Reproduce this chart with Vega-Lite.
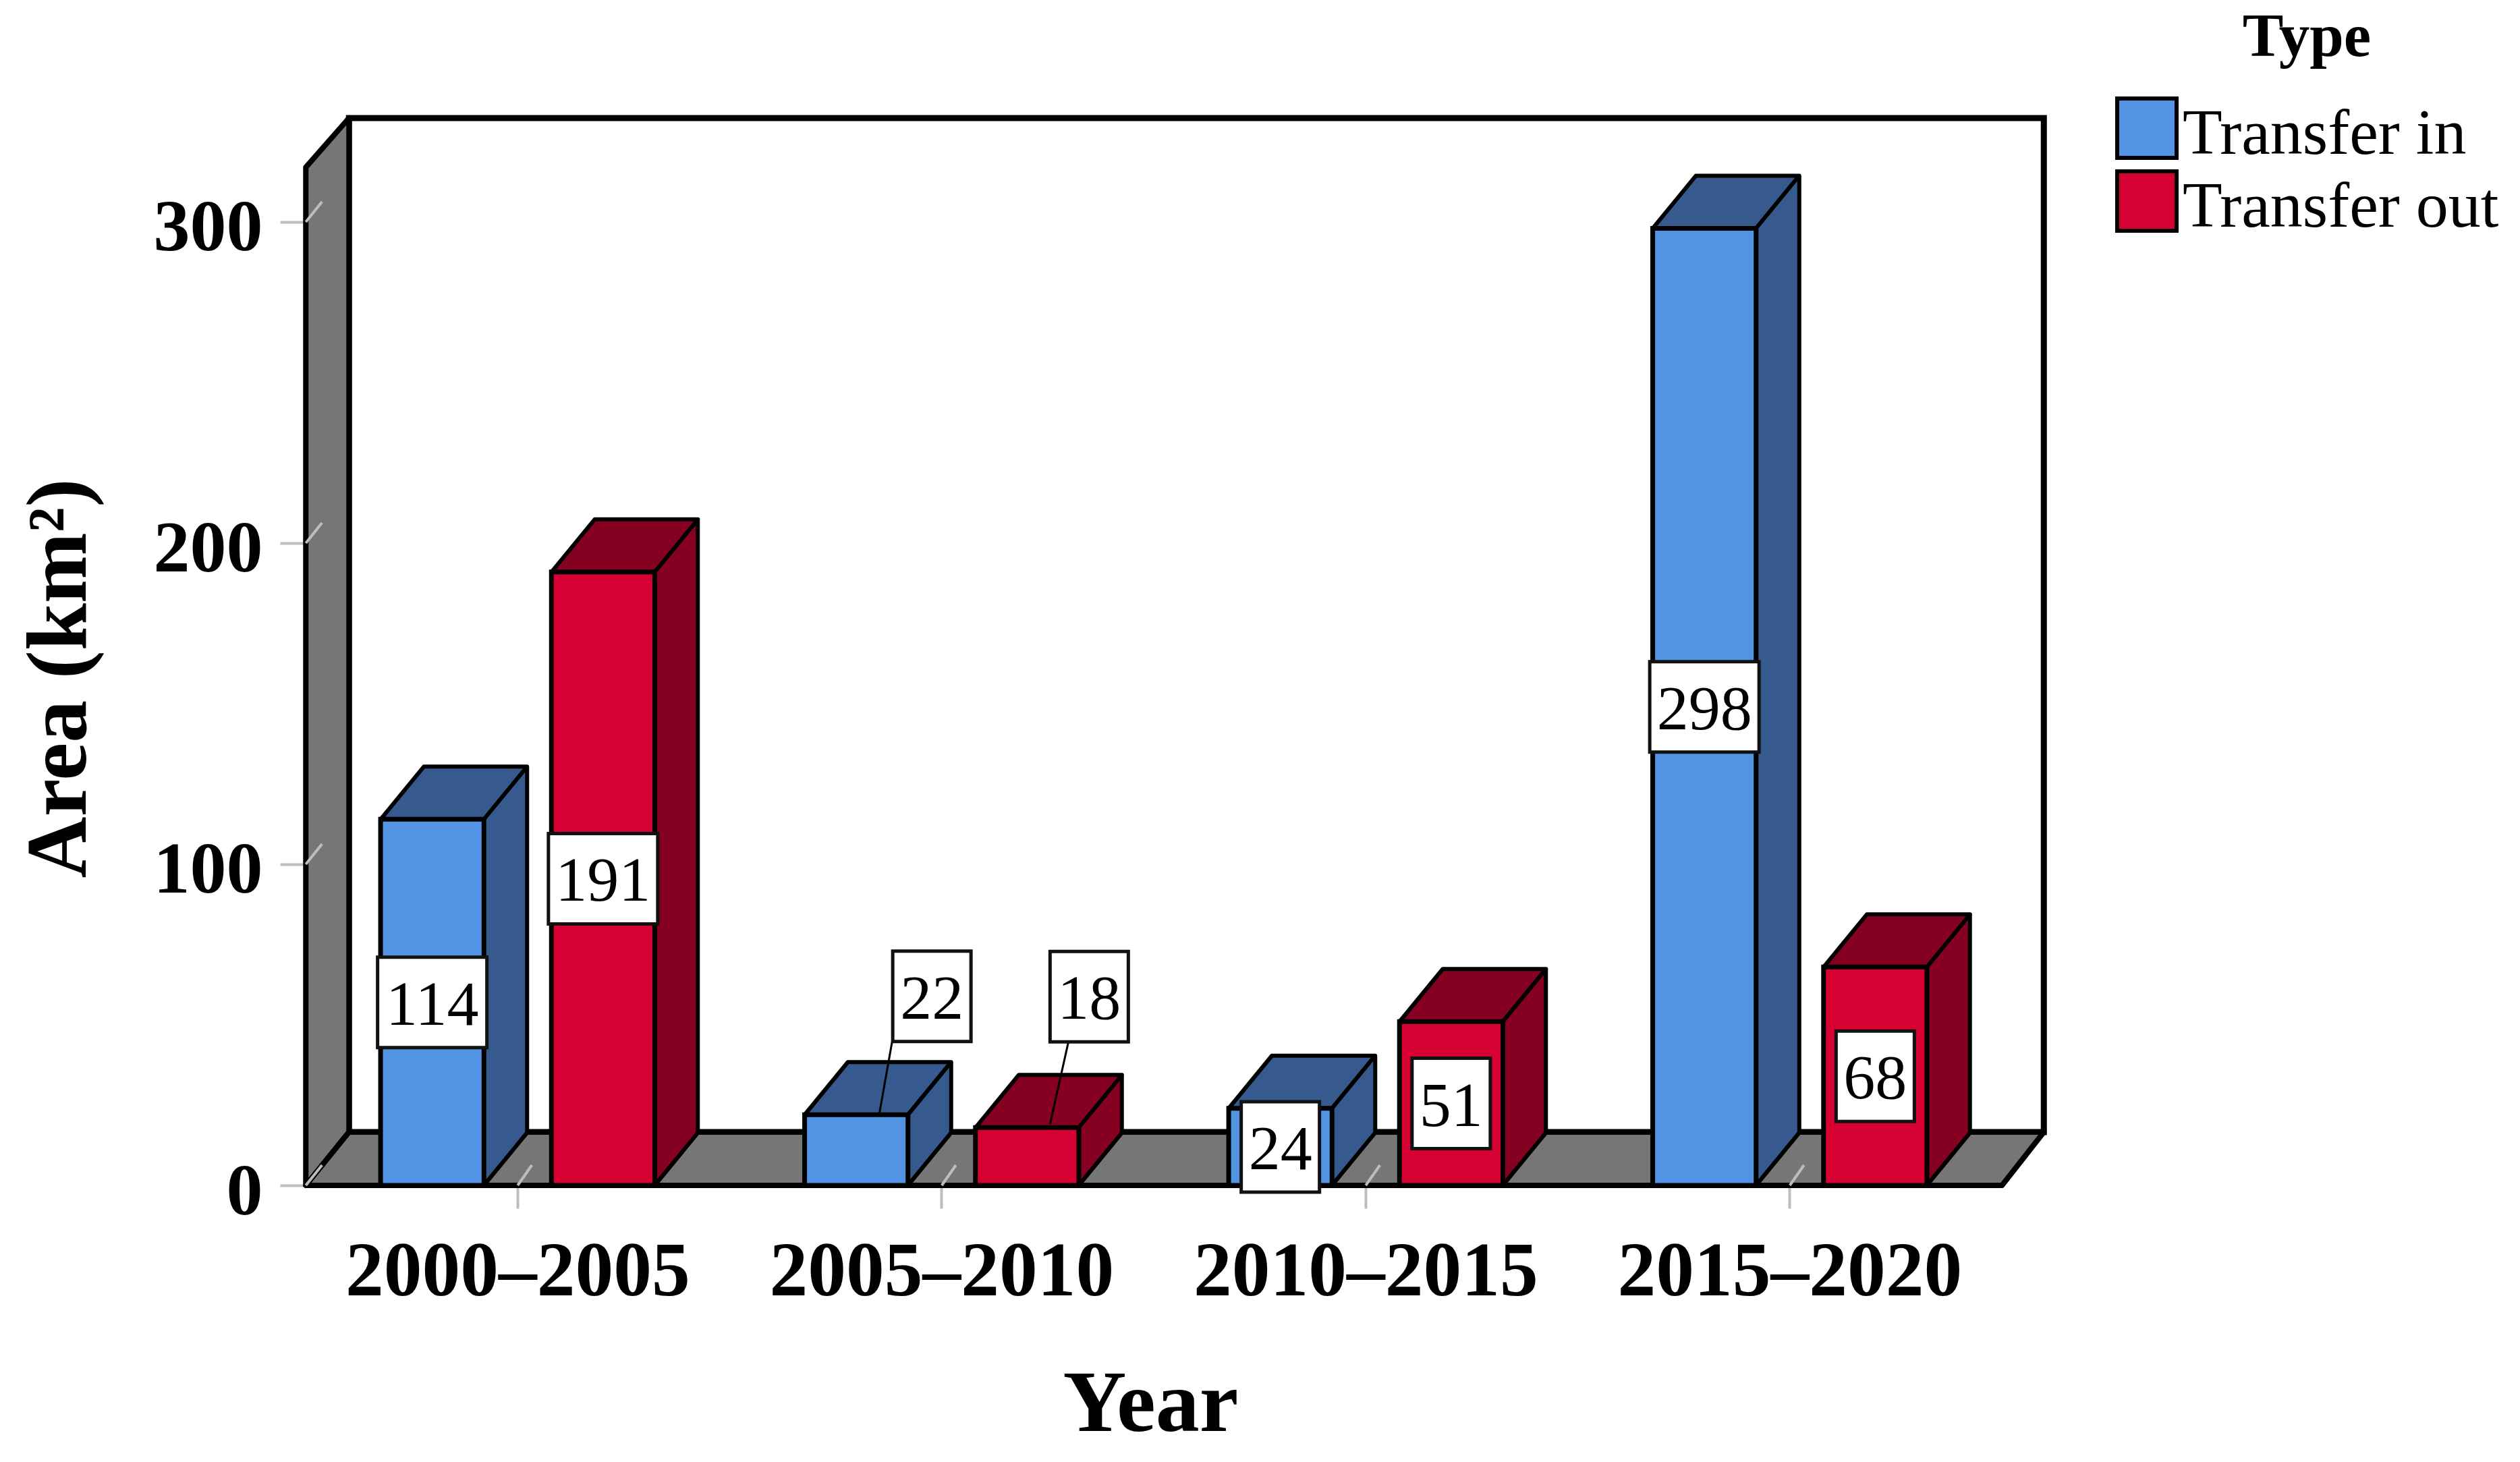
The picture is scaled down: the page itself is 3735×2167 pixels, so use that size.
{"$schema":"https://vega.github.io/schema/vega-lite/v6.json","width":2514,"height":1509,"autosize":{"type":"none"},"padding":{"left":453,"top":248,"right":768,"bottom":410},"background":"white","config":{"view":{"stroke":null},"font":"Liberation Serif","legend":{"labelLimit":1000,"titleLimit":1000}},"data":{"values":[{"period":"2000–2005","type":"Transfer in","value":114,"mid":57},{"period":"2000–2005","type":"Transfer out","value":191,"mid":95.5},{"period":"2005–2010","type":"Transfer in","value":22,"mid":11},{"period":"2005–2010","type":"Transfer out","value":18,"mid":9},{"period":"2010–2015","type":"Transfer in","value":24,"mid":12},{"period":"2010–2015","type":"Transfer out","value":51,"mid":25.5},{"period":"2015–2020","type":"Transfer in","value":298,"mid":149},{"period":"2015–2020","type":"Transfer out","value":68,"mid":34}]},"encoding":{"x":{"field":"period","type":"nominal","sort":null,"scale":{"type":"band","domain":["2000–2005","2005–2010","2010–2015","2015–2020"],"paddingInner":0,"paddingOuter":0},"axis":{"title":"Year","titleFont":"Liberation Serif","titleFontSize":130,"titleFontWeight":"bold","titleColor":"#000","titleX":1252,"titleY":363,"titleBaseline":"alphabetic","titleAnchor":null,"labelFont":"Liberation Serif","labelFontSize":113.5,"labelFontWeight":"bold","labelColor":"#000","labelAngle":0,"labelPadding":38,"labelOverlap":false,"labelBound":false,"labelFlush":false,"labelLimit":1000,"domain":false,"grid":false,"tickColor":"#bdbdbd","tickWidth":4,"tickSize":34}},"xOffset":{"field":"type","type":"nominal","sort":null,"scale":{"domain":["Transfer in","Transfer out"],"paddingInner":0.395,"paddingOuter":0.4386}},"y":{"field":"value","type":"quantitative","scale":{"domain":[0,317],"nice":false,"zero":true},"axis":{"title":"Area (km²)","titleFont":"Liberation Serif","titleFontSize":126,"titleFontWeight":"bold","titleColor":"#000","titleX":-327,"titleY":757,"titleBaseline":"alphabetic","titleAngle":-90,"titleAlign":"center","labelFont":"Liberation Serif","labelFontSize":108,"labelFontWeight":"bold","labelColor":"#000","labelPadding":26,"labelOffset":10,"labelOverlap":false,"labelBound":false,"labelFlush":false,"values":[0,100,200,300],"domain":false,"grid":false,"tickColor":"#bdbdbd","tickWidth":4,"tickSize":38}}},"resolve":{"scale":{"color":"independent"}},"layer":[{"data":{"values":[{"t":0}]},"mark":{"type":"point","opacity":1,"filled":true,"fill":"#ffffff","stroke":"#000","strokeWidth":9,"size":4,"shape":"M-250 -79L-250 -1582L2262 -1582L2262 -79Z"},"encoding":{"x":{"datum":"2000–2005"},"y":{"field":"t","type":"quantitative"},"xOffset":null}},{"data":{"values":[{"t":0}]},"mark":{"type":"point","opacity":1,"filled":true,"fill":"#767676","stroke":"#000","strokeWidth":8,"size":4,"strokeJoin":"round","shape":"M-314 0L-314 -1509L-250 -1582L-250 -79Z"},"encoding":{"x":{"datum":"2000–2005"},"y":{"field":"t","type":"quantitative"},"xOffset":null}},{"data":{"values":[{"t":0}]},"mark":{"type":"point","opacity":1,"filled":true,"fill":"#767676","stroke":"#000","strokeWidth":8,"size":4,"strokeJoin":"round","shape":"M-314 0L2200 0L2262 -79L-250 -79Z"},"encoding":{"x":{"datum":"2000–2005"},"y":{"field":"t","type":"quantitative"},"xOffset":null}},{"data":{"values":[{"t":0},{"t":100},{"t":200},{"t":300}]},"mark":{"type":"point","opacity":1,"filled":false,"stroke":"#bdbdbd","strokeWidth":4,"size":4,"shape":"M-314 0L-290 -30"},"encoding":{"x":{"datum":"2000–2005"},"y":{"field":"t","type":"quantitative"},"xOffset":null}},{"data":{"values":[{"p":"2000–2005","t":0},{"p":"2005–2010","t":0},{"p":"2010–2015","t":0},{"p":"2015–2020","t":0}]},"mark":{"type":"point","opacity":1,"filled":false,"stroke":"#bdbdbd","strokeWidth":4,"size":4,"shape":"M0 0L21 -30"},"encoding":{"x":{"field":"p","type":"nominal"},"y":{"field":"t","type":"quantitative"},"xOffset":null}},{"mark":{"type":"point","opacity":1,"filled":true,"size":4,"strokeWidth":0,"shape":"M-76.5 0L-12.5 -78L140.5 -78L140.5 1L76.5 1Z"},"encoding":{"color":{"field":"type","type":"nominal","scale":{"domain":["Transfer in","Transfer out"],"range":["#375A8E","#860021"]},"legend":null}}},{"transform":[{"filter":"datum.type=='Transfer in'"}],"mark":{"type":"rule","strokeWidth":64,"strokeCap":"butt","color":"#375A8E","xOffset":-18,"y2Offset":-78},"encoding":{"xOffset":null,"y2":{"datum":0}}},{"transform":[{"filter":"datum.type=='Transfer out'"}],"mark":{"type":"rule","strokeWidth":64,"strokeCap":"butt","color":"#860021","xOffset":235,"y2Offset":-78},"encoding":{"xOffset":null,"y2":{"datum":0}}},{"mark":{"type":"point","opacity":1,"filled":true,"size":4,"strokeWidth":0,"shape":"M76.5 0L76.5 -79L140.5 -79L140.5 -78Z"},"encoding":{"y":{"datum":0},"color":{"field":"type","type":"nominal","scale":{"domain":["Transfer in","Transfer out"],"range":["#375A8E","#860021"]},"legend":null}}},{"mark":{"type":"point","opacity":1,"filled":false,"stroke":"#000","strokeWidth":6,"strokeJoin":"round","size":4,"shape":"M-76.5 0L-12.5 -78L140.5 -78L76.5 0"}},{"mark":{"type":"point","opacity":1,"filled":false,"stroke":"#000","strokeWidth":6,"size":4,"shape":"M76.5 0L140.5 -78"},"encoding":{"y":{"datum":0}}},{"transform":[{"filter":"datum.type=='Transfer in'"}],"mark":{"type":"rule","strokeWidth":6,"strokeCap":"butt","color":"#000","xOffset":14,"yOffset":-78,"y2Offset":-78},"encoding":{"xOffset":null,"y2":{"datum":0}}},{"transform":[{"filter":"datum.type=='Transfer out'"}],"mark":{"type":"rule","strokeWidth":6,"strokeCap":"butt","color":"#000","xOffset":267,"yOffset":-78,"y2Offset":-78},"encoding":{"xOffset":null,"y2":{"datum":0}}},{"mark":{"type":"bar","stroke":"#000","strokeWidth":7},"encoding":{"y2":{"datum":0},"color":{"field":"type","type":"nominal","scale":{"domain":["Transfer in","Transfer out"],"range":["#5293E3","#D60032"]},"legend":{"title":"Type","orient":"none","legendX":2681,"legendY":-237,"titleFont":"Liberation Serif","titleFontSize":91,"titleFontWeight":"bold","titleColor":"#000","titleAnchor":"middle","titlePadding":40,"labelFont":"Liberation Serif","labelFontSize":96,"labelColor":"#000","labelOffset":5,"symbolType":"square","symbolSize":7744,"symbolStrokeColor":"#000","symbolStrokeWidth":6,"symbolOpacity":1,"rowPadding":-5,"encode":{"labels":{"update":{"dy":{"value":9}}}}}}}},{"transform":[{"filter":"datum.value==22"}],"mark":{"type":"point","opacity":1,"filled":false,"stroke":"#000","strokeWidth":3,"size":4,"yOffset":-228,"shape":"M53 68L34 175"},"encoding":{"y":{"field":"mid","type":"quantitative"}}},{"transform":[{"filter":"datum.value==18"}],"mark":{"type":"point","opacity":1,"filled":false,"stroke":"#000","strokeWidth":3,"size":4,"yOffset":-237,"shape":"M61 68L34 189"},"encoding":{"y":{"field":"mid","type":"quantitative"}}},{"transform":[{"filter":"datum.value>=100"}],"mark":{"type":"point","opacity":1,"filled":true,"fill":"#fff","stroke":"#111","strokeWidth":5,"size":4,"shape":"M-81 -67L81 -67L81 67L-81 67Z"},"encoding":{"y":{"field":"mid","type":"quantitative"}}},{"transform":[{"filter":"datum.value<100&&datum.value!=22&&datum.value!=18"}],"mark":{"type":"point","opacity":1,"filled":true,"fill":"#fff","stroke":"#111","strokeWidth":5,"size":4,"shape":"M-58 -67L58 -67L58 67L-58 67Z"},"encoding":{"y":{"field":"mid","type":"quantitative"}}},{"transform":[{"filter":"datum.value==22"}],"mark":{"type":"point","opacity":1,"filled":true,"fill":"#fff","stroke":"#111","strokeWidth":5,"size":4,"yOffset":-228,"shape":"M54 -67L170 -67L170 67L54 67Z"},"encoding":{"y":{"field":"mid","type":"quantitative"}}},{"transform":[{"filter":"datum.value==18"}],"mark":{"type":"point","opacity":1,"filled":true,"fill":"#fff","stroke":"#111","strokeWidth":5,"size":4,"yOffset":-237,"shape":"M34 -67L150 -67L150 67L34 67Z"},"encoding":{"y":{"field":"mid","type":"quantitative"}}},{"transform":[{"filter":"datum.value!=22&&datum.value!=18"}],"mark":{"type":"text","font":"Liberation Serif","fontSize":94,"color":"#000","dy":5},"encoding":{"y":{"field":"mid","type":"quantitative"},"text":{"field":"value","type":"quantitative"}}},{"transform":[{"filter":"datum.value==22"}],"mark":{"type":"text","font":"Liberation Serif","fontSize":94,"color":"#000","dy":5,"dx":112,"yOffset":-228},"encoding":{"y":{"field":"mid","type":"quantitative"},"text":{"field":"value","type":"quantitative"}}},{"transform":[{"filter":"datum.value==18"}],"mark":{"type":"text","font":"Liberation Serif","fontSize":94,"color":"#000","dy":5,"dx":92,"yOffset":-237},"encoding":{"y":{"field":"mid","type":"quantitative"},"text":{"field":"value","type":"quantitative"}}}]}
